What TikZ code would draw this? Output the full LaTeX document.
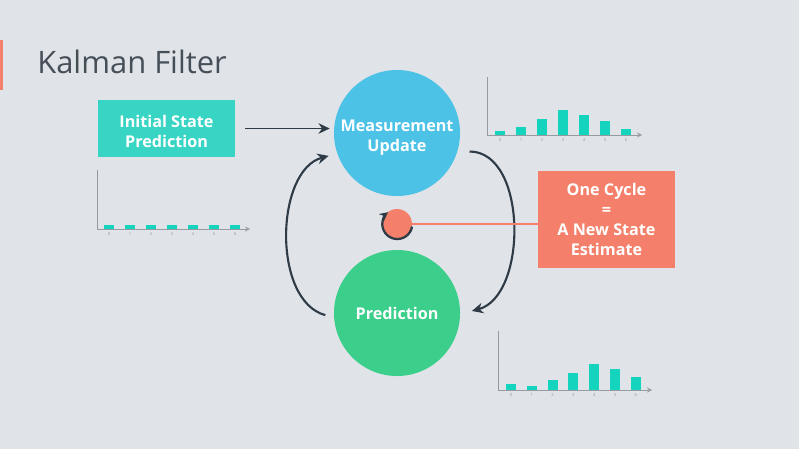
\documentclass[tikz,border=0pt]{standalone}
\usepackage{fontspec}
\setmainfont{Open Sans}
\usetikzlibrary{calc,positioning,arrows.meta}

\definecolor{bgc}{RGB}{224,228,233}
\definecolor{tealbox}{RGB}{56,213,197}
\definecolor{measc}{RGB}{76,194,230}
\definecolor{predc}{RGB}{59,207,139}
\definecolor{orangec}{RGB}{244,128,107}
\definecolor{darkc}{RGB}{46,58,70}
\definecolor{barc}{RGB}{20,212,190}
\definecolor{axisc}{RGB}{150,155,160}
\definecolor{titlec}{RGB}{70,78,88}

\newcommand{\liftline}[1]{\rule{0pt}{#1}}

\tikzset{
  box/.style={draw=none, align=center, text=white, font=\fontsize{11.5}{14.3}\selectfont\bfseries,
    inner sep=0pt},
  blob/.style={circle, minimum size=3.15cm, inner sep=0pt, align=center, text=white,
    font=\fontsize{11.5}{14.3}\selectfont\bfseries},
  flow/.style={-{Stealth[length=8pt, width=7.5pt]}, draw=darkc, line width=1.5pt},
  axis/.style={draw=axisc, line width=0.6pt},
  bar/.style={fill=barc},
  tick/.style={text=axisc, font=\fontsize{3}{3}\selectfont, inner sep=0pt}
}

\begin{document}
\begin{tikzpicture}[>=stealth, x=0.025cm, y=0.025cm]
    \fill[bgc] (0,0) rectangle (799,449);
    \useasboundingbox (0,0) rectangle (799,449);

    % title
    \fill[orangec] (0,359) rectangle (3,409);
    \node[anchor=west, text=titlec, font=\fontsize{22}{26}\selectfont, inner sep=0pt] (title) at (37,387) {Kalman Filter};

    % boxes and circles
    \node[box, fill=tealbox, minimum width=3.425cm, minimum height=1.425cm] (init) at (166.5,320.5) {\liftline{12.5pt}Initial State\\Prediction};
    \node[blob, fill=measc] (meas) at (397,316) {\liftline{15pt}Measurement\\Update};
    \node[blob, fill=predc] (pred) at (397,136) {Prediction};
    \node[circle, fill=orangec, minimum size=0.75cm, inner sep=0pt] (cyc) at (397,225) {};
    \node[box, fill=orangec, minimum width=3.425cm, minimum height=2.425cm] (note) at (606.5,229.5) {One Cycle\\=\\A New State\\Estimate};

    % connectors
    \draw[flow, line width=1.1pt, shorten <=0.25cm, shorten >=0.1cm] (init.east) -- (init.east -| meas.west);
    \draw[flow, shorten <=0.3cm, shorten >=0.3cm] (meas.-17) to[out=0, in=15, looseness=1.1] (pred.-1);
    \draw[flow, shorten <=0.22cm, shorten >=0.22cm] (pred.184) to[out=165, in=195, looseness=1.0] (meas.199);
    \draw[-{Stealth[length=6pt, width=6pt]}, draw=darkc, line width=1.6pt] (cyc.-10) arc[start angle=-10, end angle=-232, radius=0.375cm];
    \draw[orangec, line width=1pt] (cyc.east) -- (cyc.east -| note.west);

    % histogram after measurement
    \begin{scope}[shift={(487,314)}]
      \draw[axis, ->] (0,58) -- (0,0) -- (155,0);
      \foreach \h [count=\i from 0] in {3.7,8.3,16,25,20,14,5.7} {
        \fill[bar] (8+21*\i,0) rectangle ++(10,\h);
        \node[tick] at (13+21*\i,-5) {\i};
      }
    \end{scope}

    % histogram of the initial state
    \begin{scope}[shift={(97,220)}]
      \draw[axis, ->] (0,59) -- (0,0) -- (153,0);
      \foreach \h [count=\i from 0] in {4,4,4,4,4,4,4} {
        \fill[bar] (7+21*\i,0) rectangle ++(10,\h);
        \node[tick] at (12+21*\i,-5) {\i};
      }
    \end{scope}

    % histogram after prediction
    \begin{scope}[shift={(498,59)}]
      \draw[axis, ->] (0,59) -- (0,0) -- (154,0);
      \foreach \h [count=\i from 0] in {6,4,10,17,26,21,13} {
        \fill[bar] (8+20.8*\i,0) rectangle ++(10,\h);
        \node[tick] at (13+20.8*\i,-5) {\i};
      }
    \end{scope}
\end{tikzpicture}
\end{document}
